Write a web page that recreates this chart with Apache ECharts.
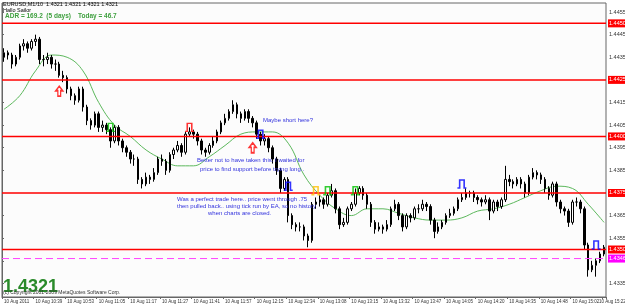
<!DOCTYPE html>
<html><head><meta charset="utf-8">
<script src="https://cdn.jsdelivr.net/npm/echarts@6/dist/echarts.min.js"></script>
<style>html,body{margin:0;padding:0;background:#fff}#c{width:625px;height:306px}</style>
</head><body><div id="c"></div>
<script>
// ---- data ----
const xLabels = ["10 Aug 2011","10 Aug 10:39","10 Aug 10:53","10 Aug 11:05","10 Aug 11:17","10 Aug 11:27","10 Aug 11:41","10 Aug 11:57","10 Aug 12:15","10 Aug 12:34","10 Aug 13:08","10 Aug 13:15","10 Aug 13:32","10 Aug 13:47","10 Aug 14:05","10 Aug 14:20","10 Aug 14:35","10 Aug 14:48","10 Aug 15:02","10 Aug 15:22"];
const barsPerLabel = 8;
// [open, close, low, high]
const candles = [
[1.4435,1.4437,1.4433,1.4439],[1.4437,1.4436,1.4434,1.4438],[1.4436,1.4432,1.4430,1.4437],[1.4432,1.4435,1.4431,1.4436],
[1.4435,1.4440,1.4434,1.4441],[1.4440,1.4441,1.4438,1.4443],[1.4441,1.4439,1.4437,1.4442],[1.4439,1.4442,1.4438,1.4443],
[1.4442,1.4443,1.4440,1.4445],[1.4443,1.4434,1.4432,1.4444],[1.4434,1.4434,1.4431,1.4436],[1.4434,1.4435,1.4432,1.4437],
[1.4435,1.4432,1.4430,1.4436],[1.4432,1.4432,1.4429,1.4434],[1.4432,1.4427,1.4426,1.4433],[1.4427,1.4426,1.4424,1.4429],
[1.4426,1.4421,1.4419,1.4427],[1.4421,1.4418,1.4416,1.4422],[1.4418,1.4416,1.4414,1.4419],[1.4416,1.4421,1.4415,1.4422],
[1.4421,1.4413,1.4411,1.4422],[1.4413,1.4407,1.4405,1.4414],[1.4407,1.4405,1.4403,1.4408],[1.4405,1.4410,1.4404,1.4411],
[1.4410,1.4404,1.4402,1.4411],[1.4404,1.4405,1.4402,1.4407],[1.4405,1.4403,1.4401,1.4406],[1.4403,1.4398,1.4395,1.4404],
[1.4398,1.4404,1.4397,1.4405],[1.4404,1.4398,1.4396,1.4405],[1.4398,1.4395,1.4393,1.4399],[1.4395,1.4393,1.4391,1.4396],
[1.4393,1.4390,1.4388,1.4394],[1.4390,1.4390,1.4387,1.4392],[1.4390,1.4381,1.4379,1.4391],[1.4381,1.4379,1.4377,1.4382],
[1.4379,1.4382,1.4378,1.4384],[1.4382,1.4381,1.4379,1.4383],[1.4381,1.4384,1.4380,1.4386],[1.4384,1.4390,1.4383,1.4391],
[1.4390,1.4389,1.4387,1.4392],[1.4389,1.4385,1.4383,1.4390],[1.4385,1.4392,1.4384,1.4393],[1.4392,1.4394,1.4390,1.4395],
[1.4394,1.4396,1.4393,1.4398],[1.4396,1.4393,1.4391,1.4397],[1.4393,1.4401,1.4392,1.4402],[1.4401,1.4402,1.4400,1.4404],
[1.4402,1.4401,1.4399,1.4403],[1.4401,1.4398,1.4396,1.4402],[1.4398,1.4394,1.4392,1.4399],[1.4394,1.4393,1.4391,1.4395],
[1.4393,1.4396,1.4392,1.4397],[1.4396,1.4398,1.4395,1.4400],[1.4398,1.4402,1.4397,1.4403],[1.4402,1.4406,1.4401,1.4407],
[1.4406,1.4408,1.4405,1.4410],[1.4408,1.4411,1.4407,1.4412],[1.4411,1.4414,1.4410,1.4416],[1.4414,1.4410,1.4408,1.4415],
[1.4410,1.4408,1.4406,1.4411],[1.4408,1.4411,1.4407,1.4412],[1.4411,1.4408,1.4406,1.4412],[1.4408,1.4406,1.4404,1.4409],
[1.4406,1.4401,1.4399,1.4407],[1.4401,1.4398,1.4396,1.4402],[1.4398,1.4399,1.4396,1.4401],[1.4399,1.4395,1.4393,1.4400],
[1.4395,1.4390,1.4388,1.4396],[1.4390,1.4385,1.4383,1.4391],[1.4385,1.4377,1.4375,1.4386],[1.4377,1.4381,1.4376,1.4382],
[1.4381,1.4365,1.4362,1.4382],[1.4365,1.4361,1.4359,1.4366],[1.4361,1.4360,1.4358,1.4362],[1.4360,1.4360,1.4358,1.4362],
[1.4360,1.4356,1.4354,1.4361],[1.4356,1.4354,1.4351,1.4357],[1.4354,1.4370,1.4353,1.4371],[1.4370,1.4371,1.4368,1.4373],
[1.4371,1.4372,1.4369,1.4374],[1.4372,1.4370,1.4368,1.4373],[1.4370,1.4374,1.4369,1.4375],[1.4374,1.4376,1.4373,1.4379],
[1.4376,1.4368,1.4366,1.4377],[1.4368,1.4361,1.4359,1.4369],[1.4361,1.4362,1.4360,1.4364],[1.4362,1.4368,1.4361,1.4369],
[1.4368,1.4370,1.4367,1.4371],[1.4370,1.4375,1.4369,1.4377],[1.4375,1.4377,1.4374,1.4378],[1.4377,1.4374,1.4372,1.4378],
[1.4374,1.4370,1.4368,1.4375],[1.4370,1.4362,1.4360,1.4371],[1.4362,1.4359,1.4357,1.4363],[1.4359,1.4360,1.4358,1.4362],
[1.4360,1.4359,1.4357,1.4361],[1.4359,1.4361,1.4358,1.4363],[1.4361,1.4368,1.4360,1.4369],[1.4368,1.4370,1.4367,1.4372],
[1.4370,1.4365,1.4363,1.4371],[1.4365,1.4360,1.4358,1.4366],[1.4360,1.4365,1.4359,1.4366],[1.4365,1.4364,1.4362,1.4366],
[1.4364,1.4368,1.4363,1.4369],[1.4368,1.4368,1.4366,1.4370],[1.4368,1.4370,1.4367,1.4372],[1.4370,1.4369,1.4367,1.4371],
[1.4369,1.4363,1.4361,1.4370],[1.4363,1.4358,1.4355,1.4364],[1.4358,1.4360,1.4357,1.4362],[1.4360,1.4362,1.4359,1.4363],
[1.4362,1.4365,1.4361,1.4366],[1.4365,1.4366,1.4364,1.4368],[1.4366,1.4368,1.4365,1.4369],[1.4368,1.4372,1.4367,1.4373],
[1.4372,1.4373,1.4371,1.4375],[1.4373,1.4375,1.4372,1.4377],[1.4375,1.4375,1.4373,1.4376],[1.4375,1.4373,1.4371,1.4376],
[1.4373,1.4372,1.4370,1.4374],[1.4372,1.4371,1.4369,1.4373],[1.4371,1.4372,1.4370,1.4374],[1.4372,1.4367,1.4363,1.4373],
[1.4367,1.4371,1.4366,1.4372],[1.4371,1.4369,1.4367,1.4372],[1.4369,1.4372,1.4368,1.4373],[1.4372,1.4381,1.4371,1.4387],
[1.4381,1.4380,1.4378,1.4383],[1.4380,1.4379,1.4377,1.4381],[1.4379,1.4381,1.4378,1.4382],[1.4381,1.4379,1.4377,1.4382],
[1.4379,1.4375,1.4373,1.4380],[1.4375,1.4382,1.4374,1.4383],[1.4382,1.4384,1.4381,1.4386],[1.4384,1.4383,1.4381,1.4385],
[1.4383,1.4381,1.4379,1.4384],[1.4381,1.4377,1.4375,1.4382],[1.4377,1.4374,1.4372,1.4378],[1.4374,1.4379,1.4373,1.4380],
[1.4379,1.4371,1.4369,1.4380],[1.4371,1.4368,1.4366,1.4372],[1.4368,1.4367,1.4365,1.4369],[1.4367,1.4362,1.4360,1.4368],
[1.4362,1.4371,1.4361,1.4372],[1.4371,1.4371,1.4369,1.4373],[1.4371,1.4368,1.4366,1.4372],[1.4368,1.4352,1.4350,1.4369],
[1.4352,1.4341,1.4338,1.4353],[1.4341,1.4343,1.4340,1.4345],[1.4343,1.4345,1.4338,1.4346],[1.4345,1.4348,1.4344,1.4349],
[1.4348,1.4351,1.4347,1.4352]
];
// moving average: [bar index, value]
const maPoints = [[0,1.4412],[4,1.4418],[8,1.4429],[12,1.4436],[16,1.4435],[20,1.4429],[24,1.4415],[28,1.4405],[32,1.4400],[36,1.4394],[40,1.4390],[44,1.4387],[48,1.4387],[52,1.4391],[56,1.4396],[60,1.4401],[64,1.4402],[68,1.4402],[72,1.4397],[76,1.4383],[80,1.4374],[84,1.4368],[88,1.4365],[92,1.4368],[96,1.4368],[100,1.4366],[104,1.4364],[108,1.4363],[112,1.4363],[116,1.4364],[120,1.4367],[124,1.4368],[128,1.4370],[132,1.4373],[136,1.4376],[140,1.4378],[144,1.4377],[148,1.4370],[152,1.4362]];
const redLevels = [1.4450, 1.4425, 1.4400, 1.4375, 1.4350];
const pinkLevel = 1.4346;
const yTickLabels = [1.4335,1.4345,1.4355,1.4365,1.4385,1.4395,1.4405,1.4415,1.4435,1.4445,1.4455];
// markers: [bar index, price, kind, colour]
const markers = [
  [14,1.4420,"up","#ff0000"],[27,1.4404,"pi","#00c000"],[47,1.4404,"pi","#ff0000"],[63,1.4395,"up","#ff0000"],
  [65,1.4401,"pi","#0000ff"],[72,1.4378,"pi","#0000ff"],[79,1.4376,"pi","#ffc000"],[82,1.4376,"pi","#00c000"],
  [89,1.4376,"pi","#00c000"],[116,1.4379,"pi","#0000ff"],[150,1.4352,"pi","#0000ff"]
];
const headerText = "EURUSD,M1/10  1.4321 1.4321 1.4321 1.4321";
const adrText = "ADR = 169.2  (5 days)";
const todayText = "Today = 46.7";
const bigPrice = "1.4321";
const notes = [
  "Maybe short here?",
  "Better not to have taken this. I waited for",
  "price to find support before trying long..",
  "Was a perfect trade here.. price went through .75",
  "then pulled back.. using tick run by EA, so no history",
  "when charts are closed."
];

// ---- chart ----
const categories = candles.map((c, i) => String(i));
const lastLabelIdx = (xLabels.length - 1) * barsPerLabel;
const FONT = '"Liberation Sans", Arial, sans-serif';
const XFS = 4.5;
const PI_PATH = 'path://M0,10 L3,10 L3,0 L9,0 L9,10 L12,10';
const UP_PATH = 'path://M5,0 L10,5 L7,5 L7,11 L3,11 L3,5 L0,5 Z';

const chart = echarts.init(document.getElementById('c'), null, {renderer: 'canvas'});

function levelSeries(v, color, width, dash, bg) {
  return {
    type: 'line', xAxisIndex: 1, data: [[0, v], [1, v]], z: 4, silent: true,
    showSymbol: false, symbol: 'none',
    lineStyle: {color: color, width: width, type: dash},
    endLabel: {show: true, distance: 2, fontSize: 5.5, fontFamily: FONT, padding: [1, 1, 1, 1],
      backgroundColor: bg, color: '#fff', formatter: () => v.toFixed(4)}
  };
}
const levels = redLevels.map(v => levelSeries(v, '#ff0000', 1.5, 'solid', '#ff0000'));
levels.push(levelSeries(pinkLevel, '#ff44ff', 1, [7, 4], '#ff00ff'));

const txt = (text, x, y, size, color, weight) => ({
  type: 'text', x: x, y: y, silent: true, z: 100,
  style: {text: text, fill: color, fontSize: size, fontFamily: FONT, fontWeight: weight || 'normal', textVerticalAlign: 'top'}
});

chart.setOption({
  animation: false,
  backgroundColor: '#ffffff',
  grid: {left: 2, right: 19, top: 3, bottom: 9, outerBoundsMode: 'none', containLabel: false,
    show: true, borderColor: '#666', borderWidth: 1, backgroundColor: '#fcfcfc'},
  xAxis: [{
    type: 'category', data: categories, boundaryGap: true,
    axisLine: {show: true, lineStyle: {color: '#666'}},
    axisTick: {show: true, length: 2, interval: (i) => i % barsPerLabel === 0, lineStyle: {color: '#666'}},
    axisLabel: {
      interval: (i) => i % barsPerLabel === 0 && i < lastLabelIdx, margin: 2, fontSize: XFS, color: '#333', fontFamily: FONT, align: 'left',
      showMaxLabel: true, showMinLabel: true, hideOverlap: false,
      formatter: (v, i) => xLabels[Math.round(Number(v) / barsPerLabel)] || ''
    },
    splitLine: {show: false}
  }, {
    type: 'value', min: 0, max: 1, show: false
  }],
  yAxis: {
    type: 'value', position: 'right', min: 1.4329, max: 1.4459, scale: true,
    axisLine: {show: true, lineStyle: {color: '#666'}},
    axisTick: {show: true, length: 2, customValues: yTickLabels, lineStyle: {color: '#666'}},
    axisLabel: {customValues: yTickLabels, margin: 3, fontSize: 5.5, color: '#333', fontFamily: FONT, formatter: v => v.toFixed(4)},
    splitLine: {show: false}
  },
  series: [
    {
      type: 'candlestick', data: candles, barWidth: 2,
      itemStyle: {color: '#ffffff', color0: '#000000', borderColor: '#000000', borderColor0: '#000000', borderWidth: 1},
      z: 3
    },
    {
      type: 'line', data: maPoints, smooth: 0.4, showSymbol: false, symbol: 'none',
      lineStyle: {color: '#5cb85c', width: 1}, z: 2
    },
    {
      type: 'scatter', z: 5,
      data: markers.map(m => ({
        value: [m[0], m[1]],
        symbol: m[2] === 'pi' ? PI_PATH : UP_PATH,
        symbolSize: m[2] === 'pi' ? [9, 8] : [7, 10],
        itemStyle: {color: 'rgba(0,0,0,0)', borderColor: m[3], borderWidth: 1.5}
      }))
    }
  ].concat(levels),
  graphic: [
    txt(headerText, 3, 1, 5.5, '#000'),
    txt('Hallo Sailor', 3, 7, 5.5, '#000'),
    txt(adrText, 5, 13, 6.5, '#3fa03f', 'bold'),
    txt(todayText, 78, 13, 6.5, '#3fa03f', 'bold'),
    txt(bigPrice, 3, 278, 18, '#2a8a2a', 'bold'),
    txt('(c) Copyright 2001-2009 MetaQuotes Software Corp.', 3, 290, 5, '#333'),
    txt(xLabels[xLabels.length - 1], 599, 299.5, XFS, '#333'),
    txt(notes[0], 263, 117, 6, '#3333dd'),
    txt(notes[1], 197, 157, 6, '#3333dd'),
    txt(notes[2], 200, 166, 6, '#3333dd'),
    txt(notes[3], 177, 196, 6, '#3333dd'),
    txt(notes[4], 177, 203, 6, '#3333dd'),
    txt(notes[5], 208, 210, 6, '#3333dd')
  ]
});
</script>
</body></html>
